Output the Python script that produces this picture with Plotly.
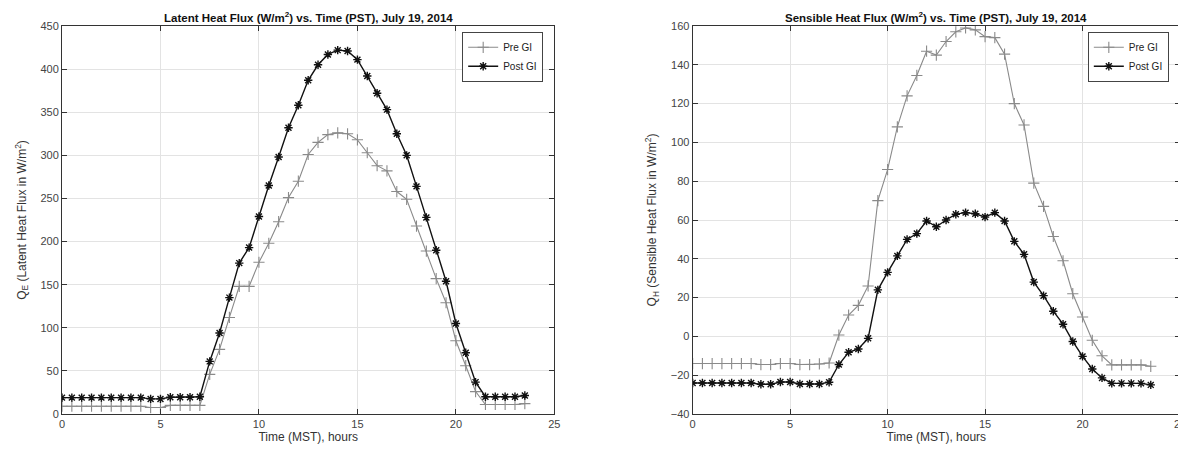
import plotly.graph_objects as go

hours = [0, 0.5, 1, 1.5, 2, 2.5, 3, 3.5, 4, 4.5, 5, 5.5, 6, 6.5, 7, 7.5,
         8, 8.5, 9, 9.5, 10, 10.5, 11, 11.5, 12, 12.5, 13, 13.5, 14, 14.5, 15, 15.5,
         16, 16.5, 17, 17.5, 18, 18.5, 19, 19.5, 20, 20.5, 21, 21.5, 22, 22.5, 23, 23.5]

latent_pre = [9, 9, 9, 9, 9, 9, 9, 9, 9, 7.5, 7.5, 10, 10, 10, 10,
              46, 75, 112, 148, 148, 176, 198, 223, 251, 270, 301, 315, 324, 326, 325, 318,
              303, 288, 282, 258, 249, 218, 189, 157, 129, 85, 56, 26, 11, 11, 11, 11, 12]
latent_post = [19, 19, 19, 19, 19, 19, 19, 19, 19, 17.5, 17.5, 19.5, 19.5, 19.5, 20,
               61, 94, 135, 175, 193, 229, 265, 298, 332, 358, 387, 405, 417, 422, 421, 411,
               392, 372, 353, 325, 300, 264, 228, 190, 154, 105, 71, 37, 20, 20, 20, 20, 21.5]

sensible_pre = [-14, -14, -14, -14, -14, -14, -14, -14.5, -14.5, -14, -14, -14.5, -14.5, -14.2, -13.7,
                0.7, 11, 16, 26, 70, 86, 108, 124, 134.5, 147, 145, 152, 157, 159, 158, 154.5,
                154, 145.5, 120, 109, 79, 67, 51.5, 39, 22, 10, -2, -10, -14.7, -14.7, -14.7, -14.7, -15.4]
sensible_post = [-24, -24, -24, -24, -24, -24, -24, -24.7, -24.7, -23.5, -23.5, -24.5, -24.5, -24.5, -23.6,
                 -14.5, -8.2, -6.5, -1, 24, 33, 41.5, 50, 53, 59.5, 56.5, 60, 63, 63.8, 63.2, 61.5,
                 63.8, 59.5, 49, 42.3, 28, 21, 13, 6.3, -2.6, -10.3, -16.8, -21.4, -24.2, -24.2, -24.2, -24.2, -25]

x_ticks = [0, 5, 10, 15, 20, 25]
latent_ticks = [0, 50, 100, 150, 200, 250, 300, 350, 400, 450]
sensible_ticks = [-40, -20, 0, 20, 40, 60, 80, 100, 120, 140, 160]

FONT = "Liberation Sans, Arial, sans-serif"
PRE_COLOR = "#8a8a8a"
POST_COLOR = "#111111"

fig = go.Figure()

def add_pair(pre, post, xa, ya, leg):
    fig.add_trace(go.Scatter(
        x=hours, y=pre, name="Pre GI", mode="lines+markers", xaxis=xa, yaxis=ya, legend=leg,
        line=dict(color=PRE_COLOR, width=1.1),
        marker=dict(symbol="cross-thin-open", size=8, color=PRE_COLOR, line=dict(width=1.1, color=PRE_COLOR)),
    ))
    fig.add_trace(go.Scatter(
        x=hours, y=post, name="Post GI", mode="lines+markers", xaxis=xa, yaxis=ya, legend=leg,
        line=dict(color=POST_COLOR, width=1.4),
        marker=dict(symbol="asterisk-open", size=7, color=POST_COLOR, line=dict(width=1.4, color=POST_COLOR)),
    ))

add_pair(latent_pre, latent_post, "x", "y", "legend")
add_pair(sensible_pre, sensible_post, "x2", "y2", "legend2")

axis_common = dict(
    showgrid=True, gridcolor="#e3e3e3", gridwidth=1,
    showline=True, linecolor="#333333", linewidth=1, mirror="ticks",
    ticks="inside", ticklen=5, tickcolor="#333333",
    tickfont=dict(family=FONT, size=11, color="#444444"),
    zeroline=False,
)

x_title = dict(text="Time (MST), hours", font=dict(family=FONT, size=12, color="#333333"), standoff=2)

fig.update_layout(
    width=1186, height=452,
    margin=dict(l=54, r=8, t=18, b=46),
    paper_bgcolor="white", plot_bgcolor="white",
    font=dict(family=FONT, size=11, color="#333333"),
    xaxis=dict(domain=[0, 0.4404], range=[0, 25], tickvals=x_ticks, title=x_title, anchor="y", **axis_common),
    yaxis=dict(domain=[0, 1], range=[0, 450], tickvals=latent_ticks, anchor="x",
               title=dict(text="Q<sub>E</sub> (Latent Heat Flux in W/m<sup>2</sup>)",
                          font=dict(family=FONT, size=12, color="#333333"), standoff=11),
               **axis_common),
    xaxis2=dict(domain=[0.5641, 1], range=[0, 25], tickvals=x_ticks, title=x_title, anchor="y2", **axis_common),
    yaxis2=dict(domain=[0, 1], range=[-40, 160], tickvals=sensible_ticks, anchor="x2",
                title=dict(text="Q<sub>H</sub> (Sensible Heat Flux in W/m<sup>2</sup>)",
                           font=dict(family=FONT, size=12, color="#333333"), standoff=11),
                **axis_common),
    legend=dict(x=0.4304, y=0.985, xanchor="right", yanchor="top", bgcolor="white",
                bordercolor="#444444", borderwidth=1, font=dict(family=FONT, size=10, color="#222222"),
                tracegroupgap=0, itemwidth=30),
    legend2=dict(x=0.990, y=0.985, xanchor="right", yanchor="top", bgcolor="white",
                 bordercolor="#444444", borderwidth=1, font=dict(family=FONT, size=10, color="#222222"),
                 tracegroupgap=0, itemwidth=30),
    showlegend=True,
    annotations=[
        dict(text="<b>Latent Heat Flux (W/m<sup>2</sup>) vs. Time (PST), July 19, 2014</b>",
             xref="x domain", yref="paper", x=0.5, y=1, xanchor="center", yanchor="bottom", yshift=0,
             showarrow=False, font=dict(family=FONT, size=11.5, color="#111111")),
        dict(text="<b>Sensible Heat Flux (W/m<sup>2</sup>) vs. Time (PST), July 19, 2014</b>",
             xref="x2 domain", yref="paper", x=0.5, y=1, xanchor="center", yanchor="bottom", yshift=0,
             showarrow=False, font=dict(family=FONT, size=11.5, color="#111111")),
    ],
)

fig.write_html("out.html")
